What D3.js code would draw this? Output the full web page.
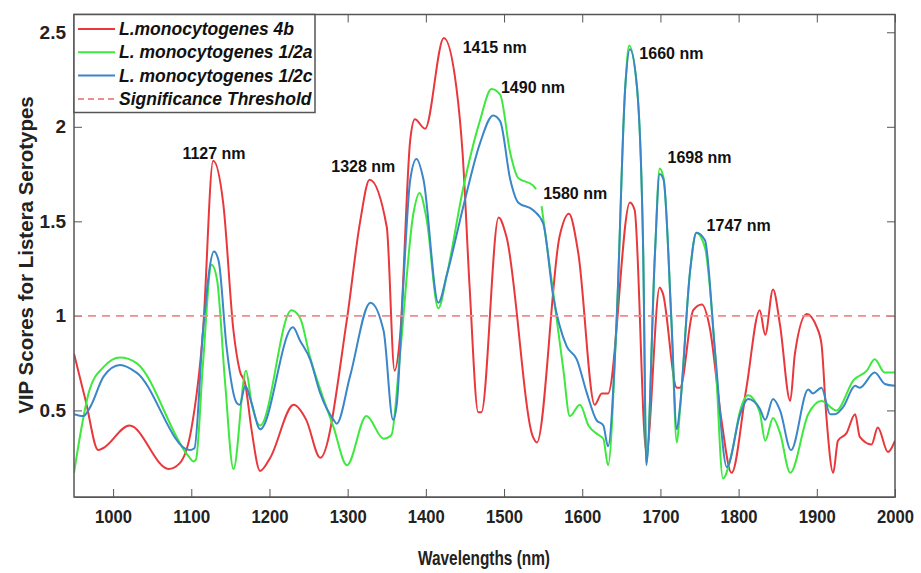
<!DOCTYPE html>
<html>
<head>
<meta charset="utf-8">
<script src="https://cdn.jsdelivr.net/npm/d3@7"></script>
<style>
  body { margin: 0; background: #fff; }
  svg { display: block; font-family: "Liberation Sans", Arial, sans-serif; }
  .tick text { font-weight: bold; fill: #222; }
</style>
</head>
<body>
<svg id="chart" width="921" height="573"></svg>
<script>
// ── Data ─────────────────────────────────────────────────────────────────────
const SERIES_NAMES = ['L.monocytogenes 4b', 'L. monocytogenes 1/2a', 'L. monocytogenes 1/2c'];
const THRESHOLD_NAME = 'Significance Threshold';
const THRESHOLD = 1;

const X_TICKS = [1000, 1100, 1200, 1300, 1400, 1500, 1600, 1700, 1800, 1900, 2000];
const Y_TICKS = [0.5, 1, 1.5, 2, 2.5];

// L. monocytogenes 4b
const wl4b  = [950, 965, 981, 987, 1021, 1071, 1085, 1100, 1115, 1128, 1141, 1154, 1162, 1169, 1177, 1188,
               1201, 1231, 1247, 1265, 1299, 1316, 1328, 1350, 1360, 1367, 1380, 1386, 1399, 1423, 1439,
               1447, 1456, 1467, 1471, 1493, 1503, 1537, 1542, 1571, 1583, 1595, 1616, 1625, 1633, 1661,
               1667, 1682, 1699, 1703, 1721, 1725, 1742, 1753, 1763, 1778, 1791, 1810, 1827, 1834, 1844,
               1853, 1866, 1872, 1887, 1900, 1906, 1912, 1921, 1927, 1938, 1949, 1955, 1970, 1978, 1991, 2000];
const vip4b = [0.80, 0.55, 0.29, 0.30, 0.42, 0.19, 0.22, 0.40, 0.92, 1.82, 1.59, 0.92, 0.71, 0.64, 0.40, 0.18,
               0.25, 0.53, 0.45, 0.25, 0.98, 1.50, 1.72, 1.47, 0.71, 0.89, 1.93, 2.04, 1.99, 2.47, 2.21,
               1.86, 1.15, 0.49, 0.49, 1.52, 1.42, 0.36, 0.33, 1.42, 1.54, 1.33, 0.53, 0.59, 0.59, 1.60,
               1.56, 0.28, 1.15, 1.12, 0.62, 0.62, 1.03, 1.06, 0.94, 0.45, 0.17, 0.62, 1.03, 0.90, 1.14,
               0.95, 0.55, 0.80, 1.01, 0.94, 0.85, 0.48, 0.17, 0.34, 0.38, 0.48, 0.36, 0.32, 0.41, 0.28, 0.34];

// L. monocytogenes 1/2a (null = gap in the trace)
const wl12a  = [950, 970, 988, 1009, 1030, 1096, 1103, 1106, 1115, 1126, 1133, 1143, 1154, 1170, 1177, 1188,
                1228, 1239, 1252, 1265, 1282, 1299, 1324, 1346, 1356, 1367, 1384, 1392, 1401, 1416, 1427,
                1448, 1469, 1484, 1495, 1508, 1518, 1537, 1541, 1544, 1548, 1563, 1576, 1584, 1597, 1608,
                1621, 1627, 1633, 1644, 1655, 1660, 1670, 1678, 1682, 1693, 1699, 1704, 1714, 1721, 1725,
                1738, 1746, 1757, 1770, 1780, 1791, 1802, 1812, 1827, 1834, 1844, 1853, 1866, 1889, 1906,
                1925, 1947, 1964, 1974, 1987, 2000];
const vip12a = [0.17, 0.61, 0.73, 0.78, 0.75, 0.26, 0.23, 0.24, 0.75, 1.27, 1.19, 0.66, 0.19, 0.71, 0.54, 0.42,
                1.03, 0.99, 0.78, 0.61, 0.41, 0.21, 0.47, 0.35, 0.37, 0.80, 1.54, 1.65, 1.51, 1.04, 1.22,
                1.68, 2.03, 2.20, 2.17, 1.86, 1.73, 1.69, 1.67, null, 1.58, 1.12, 0.71, 0.47, 0.53, 0.42,
                0.37, 0.35, 0.21, 0.98, 2.21, 2.43, 2.21, 1.33, 0.22, 1.33, 1.78, 1.73, 0.98, 0.33, 0.50,
                1.24, 1.44, 1.36, 0.80, 0.14, 0.27, 0.50, 0.58, 0.49, 0.34, 0.46, 0.38, 0.17, 0.48, 0.55,
                0.50, 0.66, 0.71, 0.77, 0.70, 0.70];

// L. monocytogenes 1/2c
const wl12c  = [950, 962, 971, 988, 1009, 1030, 1098, 1104, 1115, 1129, 1135, 1145, 1158, 1162, 1169, 1177,
                1188, 1230, 1239, 1252, 1265, 1282, 1286, 1303, 1329, 1346, 1358, 1363, 1371, 1380, 1388,
                1397, 1416, 1427, 1448, 1469, 1486, 1495, 1508, 1518, 1537, 1550, 1563, 1580, 1593, 1606,
                1618, 1627, 1633, 1644, 1655, 1661, 1670, 1678, 1682, 1693, 1699, 1704, 1714, 1721, 1725,
                1738, 1746, 1757, 1770, 1785, 1802, 1812, 1827, 1834, 1844, 1853, 1867, 1889, 1895, 1906,
                1917, 1923, 1934, 1949, 1955, 1974, 1987, 2000];
const vip12c = [0.48, 0.47, 0.52, 0.68, 0.74, 0.70, 0.29, 0.30, 0.92, 1.34, 1.29, 0.84, 0.54, 0.53, 0.63, 0.54,
                0.40, 0.94, 0.87, 0.77, 0.59, 0.45, 0.43, 0.68, 1.07, 0.92, 0.45, 0.54, 1.15, 1.72, 1.83,
                1.72, 1.07, 1.22, 1.58, 1.91, 2.06, 2.03, 1.72, 1.60, 1.56, 1.49, 1.10, 0.84, 0.77, 0.59,
                0.45, 0.42, 0.31, 0.98, 2.21, 2.41, 2.21, 1.33, 0.21, 1.33, 1.75, 1.72, 0.98, 0.40, 0.52,
                1.24, 1.44, 1.40, 0.80, 0.20, 0.48, 0.56, 0.51, 0.45, 0.56, 0.50, 0.29, 0.61, 0.59, 0.62,
                0.48, 0.48, 0.52, 0.63, 0.62, 0.70, 0.64, 0.63];

// Peak annotations: label text, and where its centre sits (wavelength, VIP)
const PEAK_LABELS = ['1127 nm', '1328 nm', '1415 nm', '1490 nm', '1580 nm', '1660 nm', '1698 nm', '1747 nm'];
const PEAK_AT_WL  = [1129, 1320, 1488, 1537, 1591, 1714, 1750, 1800];
const PEAK_AT_VIP = [1.86, 1.79, 2.42, 2.21, 1.65, 2.39, 1.84, 1.48];

const COLORS = ['#e8383c', '#3ee83e', '#3a86c8'];
const THRESH_COLOR = '#f08c8c';

// ── Layout ───────────────────────────────────────────────────────────────────
const svg = d3.select('#chart');
const X0 = 74, X1 = 895, Y0 = 14.5, Y1 = 497;

const x = d3.scaleLinear().domain([950, 2000]).range([X0, X1]);
const y = d3.scaleLinear().domain([0.042, 2.594]).range([Y1, Y0]);

// ── Axes ─────────────────────────────────────────────────────────────────────
const TICK = 8;
const axisColor = '#555';

// x tick labels in the figure are tall and narrow: squeeze them a little
svg.append('g').attr('transform', `translate(0,${Y1})`)
    .call(d3.axisBottom(x).tickValues(X_TICKS).tickSize(-TICK).tickSizeOuter(0).tickPadding(13)
        .tickFormat(d3.format('d')))
    .call(g => g.selectAll('text').attr('font-size', 19)
        .attr('textLength', 37).attr('lengthAdjust', 'spacingAndGlyphs'))
    .call(g => g.selectAll('line, .domain').attr('stroke', axisColor));

svg.append('g').attr('transform', `translate(0,${Y0})`)
    .call(d3.axisTop(x).tickValues(X_TICKS).tickSize(-TICK).tickSizeOuter(0).tickFormat(''))
    .call(g => g.selectAll('line').attr('stroke', axisColor))
    .call(g => g.select('.domain').remove());

svg.append('g').attr('transform', `translate(${X0},0)`)
    .call(d3.axisLeft(y).tickValues(Y_TICKS).tickSize(-TICK).tickSizeOuter(0).tickPadding(8)
        .tickFormat(d3.format('')))
    .call(g => g.selectAll('text').attr('font-size', 19))
    .call(g => g.selectAll('line').attr('stroke', axisColor))
    .call(g => g.select('.domain').remove());

svg.append('g').attr('transform', `translate(${X1},0)`)
    .call(d3.axisRight(y).tickValues(Y_TICKS).tickSize(-TICK).tickSizeOuter(0).tickFormat(''))
    .call(g => g.selectAll('line').attr('stroke', axisColor))
    .call(g => g.select('.domain').remove());

// ── Lines ────────────────────────────────────────────────────────────────────
svg.append('defs').append('clipPath').attr('id', 'plot-clip')
    .append('rect').attr('x', X0).attr('y', Y0).attr('width', X1 - X0).attr('height', Y1 - Y0);

const linesG = svg.append('g').attr('clip-path', 'url(#plot-clip)');

const line = d3.line()
    .defined(d => d[1] != null)
    .x(d => x(d[0]))
    .y(d => y(d[1]))
    .curve(d3.curveMonotoneX);

const seriesData = [
    d3.zip(wl4b, vip4b),
    d3.zip(wl12a, vip12a),
    d3.zip(wl12c, vip12c)
];

seriesData.forEach((pts, i) => {
    linesG.append('path')
        .datum(pts)
        .attr('fill', 'none')
        .attr('stroke', COLORS[i])
        .attr('stroke-width', 2)
        .attr('stroke-linejoin', 'round')
        .attr('d', line);
});

// threshold
linesG.append('line')
    .attr('x1', x(950)).attr('x2', x(2000))
    .attr('y1', y(THRESHOLD)).attr('y2', y(THRESHOLD))
    .attr('stroke', THRESH_COLOR)
    .attr('stroke-width', 1.8)
    .attr('stroke-dasharray', '8,6');

// frame
svg.append('rect')
    .attr('x', X0).attr('y', Y0).attr('width', X1 - X0).attr('height', Y1 - Y0)
    .attr('fill', 'none').attr('stroke', axisColor).attr('stroke-width', 1.5);

// ── Peak annotations ─────────────────────────────────────────────────────────
svg.append('g').selectAll('text')
    .data(PEAK_LABELS)
    .join('text')
    .attr('x', (d, i) => x(PEAK_AT_WL[i]))
    .attr('y', (d, i) => y(PEAK_AT_VIP[i]))
    .attr('dy', '0.36em')
    .attr('text-anchor', 'middle')
    .attr('font-size', 16)
    .attr('font-weight', 'bold')
    .attr('fill', '#111')
    .text(d => d);

// ── Axis titles ──────────────────────────────────────────────────────────────
svg.append('text')
    .attr('x', 484).attr('y', 565)
    .attr('text-anchor', 'middle')
    .attr('font-size', 21).attr('font-weight', 'bold').attr('fill', '#222')
    .attr('textLength', 132).attr('lengthAdjust', 'spacingAndGlyphs')
    .text('Wavelengths (nm)');

svg.append('text')
    .attr('transform', `translate(33,255) rotate(-90)`)
    .attr('text-anchor', 'middle')
    .attr('font-size', 20.5).attr('font-weight', 'bold').attr('fill', '#222')
    .text('VIP Scores for Listera Serotypes');

// ── Legend ───────────────────────────────────────────────────────────────────
const legend = svg.append('g');
legend.append('rect')
    .attr('x', X0).attr('y', Y0).attr('width', 241).attr('height', 98)
    .attr('fill', '#fff').attr('stroke', axisColor).attr('stroke-width', 1.5);

const legendItems = SERIES_NAMES.map((n, i) => ({ name: n, color: COLORS[i], dash: null }))
    .concat([{ name: THRESHOLD_NAME, color: THRESH_COLOR, dash: '6,4' }]);

legendItems.forEach((it, i) => {
    const ly = 29 + i * 23.3;
    legend.append('line')
        .attr('x1', 78).attr('x2', 115).attr('y1', ly).attr('y2', ly)
        .attr('stroke', it.color).attr('stroke-width', 2)
        .attr('stroke-dasharray', it.dash);
    legend.append('text')
        .attr('x', 119).attr('y', ly + 6)
        .attr('font-size', 17.5).attr('font-weight', 'bold').attr('font-style', 'italic')
        .attr('fill', '#111')
        .text(it.name);
});
</script>
</body>
</html>
